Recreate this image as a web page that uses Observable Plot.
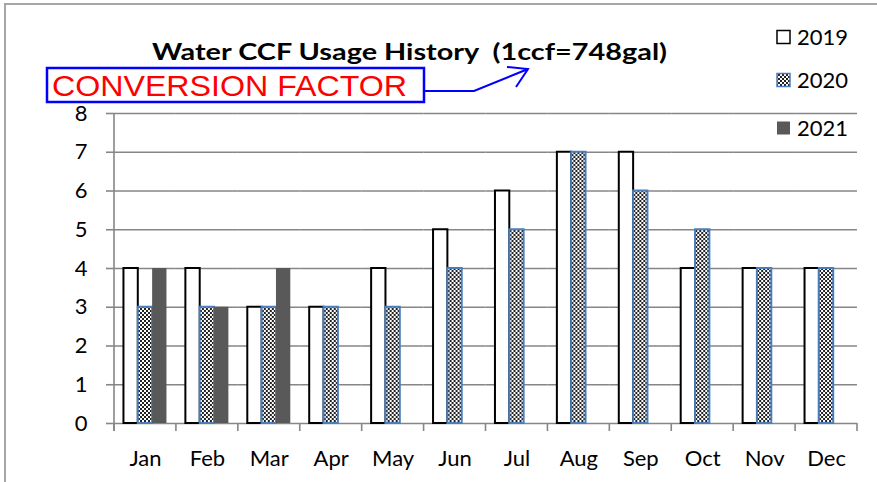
<!DOCTYPE html>
<html>
<head>
<meta charset="utf-8">
<script src="https://cdn.jsdelivr.net/npm/d3@7"></script>
<script src="https://cdn.jsdelivr.net/npm/@observablehq/plot@0.6"></script>
<style>
  html, body { margin: 0; padding: 0; background: white; }
  svg { display: block; }
</style>
</head>
<body>
<div id="chart"></div>
<script>
const months = ["Jan","Feb","Mar","Apr","May","Jun","Jul","Aug","Sep","Oct","Nov","Dec"];
const years = ["2019","2020","2021"];
const v2019 = [4,4,3,3,4,5,6,7,7,4,4,4];
const v2020 = [3,3,3,3,3,4,5,7,6,5,4,4];
const v2021 = [4,3,4];
const yTicks = [0,1,2,3,4,5,6,7,8];
const titleText = "Water CCF Usage History  (1ccf=748gal)";
const noteText = "CONVERSION FACTOR";

const rows2019 = v2019.map((v,i) => ({month: months[i], year: "2019", value: v}));
const rows2020 = v2020.map((v,i) => ({month: months[i], year: "2020", value: v}));
const rows2021 = v2021.map((v,i) => ({month: months[i], year: "2021", value: v}));

const W = 877, H = 482;
const plot = Plot.plot({
  width: W, height: H,
  marginTop: 113, marginBottom: 59, marginLeft: 114, marginRight: 20,
  style: {fontFamily: "Lato, sans-serif", fontSize: "22px", color: "#000", background: "white", overflow: "visible"},
  fx: {domain: months, padding: 0, round: false, label: null, tickSize: 0, tickPadding: 27, axis: "bottom"},
  x: {domain: years, paddingInner: 0, paddingOuter: 0.66, round: false, axis: null},
  y: {domain: [0, 8], ticks: yTicks, tickSize: 8, tickPadding: 19, label: null},
  marks: [
    Plot.ruleY(yTicks, {stroke: "#868686", strokeWidth: 1.6}),
    Plot.barY(rows2019, {fx: "month", x: "year", y: "value", fill: "white", stroke: "black", strokeWidth: 2}),
    Plot.barY(rows2020, {fx: "month", x: "year", y: "value", fill: "url(#checker)", stroke: "#4a7ebb", strokeWidth: 2}),
    Plot.barY(rows2021, {fx: "month", x: "year", y: "value", fill: "#595959"})
  ]
});
document.getElementById("chart").appendChild(plot);

const svg = d3.select(plot);
svg.selectAll("g[aria-label='y-axis tick'] path, g[aria-label='y-axis'] path").attr("stroke", "#868686").attr("stroke-width", 1.6);

// pattern
const defs = svg.insert("defs", ":first-child");
const pat = defs.append("pattern").attr("id", "checker").attr("patternUnits", "userSpaceOnUse")
  .attr("width", 4).attr("height", 4);
pat.append("rect").attr("width", 4).attr("height", 4).attr("fill", "white");
pat.append("rect").attr("width", 2).attr("height", 2).attr("fill", "#222");
pat.append("rect").attr("x", 2).attr("y", 2).attr("width", 2).attr("height", 2).attr("fill", "#222");

const fx = plot.scale("fx");
const y = plot.scale("y");
const y0 = y.apply(0), y8 = y.apply(8);
const g = svg.append("g").attr("text-anchor", "start");
// y axis line
const xLeft = fx.apply(months[0]);
const xRight = fx.apply(months[months.length-1]) + fx.bandwidth;
g.append("line").attr("x1", xLeft).attr("x2", xLeft).attr("y1", y8).attr("y2", y0 + 8)
  .attr("stroke", "#868686").attr("stroke-width", 1.6);
// x boundary ticks
const bounds = months.map(m => fx.apply(m)).concat([xRight]);
bounds.forEach(b => {
  g.append("line").attr("x1", b).attr("x2", b).attr("y1", y0).attr("y2", y0 + 8)
    .attr("stroke", "#868686").attr("stroke-width", 1.6);
});

// outer frame
g.append("path").attr("d", `M5,${H}V4H${W}`).attr("fill", "none").attr("stroke", "#a6a6a6").attr("stroke-width", 2);

// title
g.append("text").attr("x", 152).attr("y", 59.5).attr("text-anchor", "start")
  .attr("textLength", 515).attr("lengthAdjust", "spacingAndGlyphs")
  .attr("font-family", "Lato, sans-serif").attr("font-weight", "bold").attr("font-size", 23)
  .attr("fill", "black").text(titleText);

// note box
g.append("rect").attr("x", 47).attr("y", 68).attr("width", 377).attr("height", 34)
  .attr("fill", "white").attr("stroke", "#0000ff").attr("stroke-width", 2.5);
g.append("text").attr("x", 52).attr("y", 96).attr("text-anchor", "start")
  .attr("textLength", 355).attr("lengthAdjust", "spacingAndGlyphs")
  .attr("font-family", "Liberation Sans, Arial, sans-serif").attr("font-size", 30)
  .attr("fill", "#ff0000").text(noteText);
g.append("path").attr("d", "M424,91H474L528,69M507,67L528,69L516,87")
  .attr("fill", "none").attr("stroke", "#0000ff").attr("stroke-width", 2);

// legend
const legend = [
  {label: years[0], fill: "white", stroke: "black", cy: 37},
  {label: years[1], fill: "url(#checker)", stroke: "#4a7ebb", cy: 80},
  {label: years[2], fill: "#595959", stroke: "none", cy: 128}
];
legend.forEach(d => {
  g.append("rect").attr("x", 777).attr("y", d.cy - 6.5).attr("width", 13).attr("height", 13)
    .attr("fill", d.fill).attr("stroke", d.stroke).attr("stroke-width", 1.5);
  g.append("text").attr("x", 797).attr("y", d.cy + 8).attr("text-anchor", "start")
    .attr("font-family", "Lato, sans-serif").attr("font-size", 22).attr("fill", "black").text(d.label);
});
</script>
</body>
</html>
